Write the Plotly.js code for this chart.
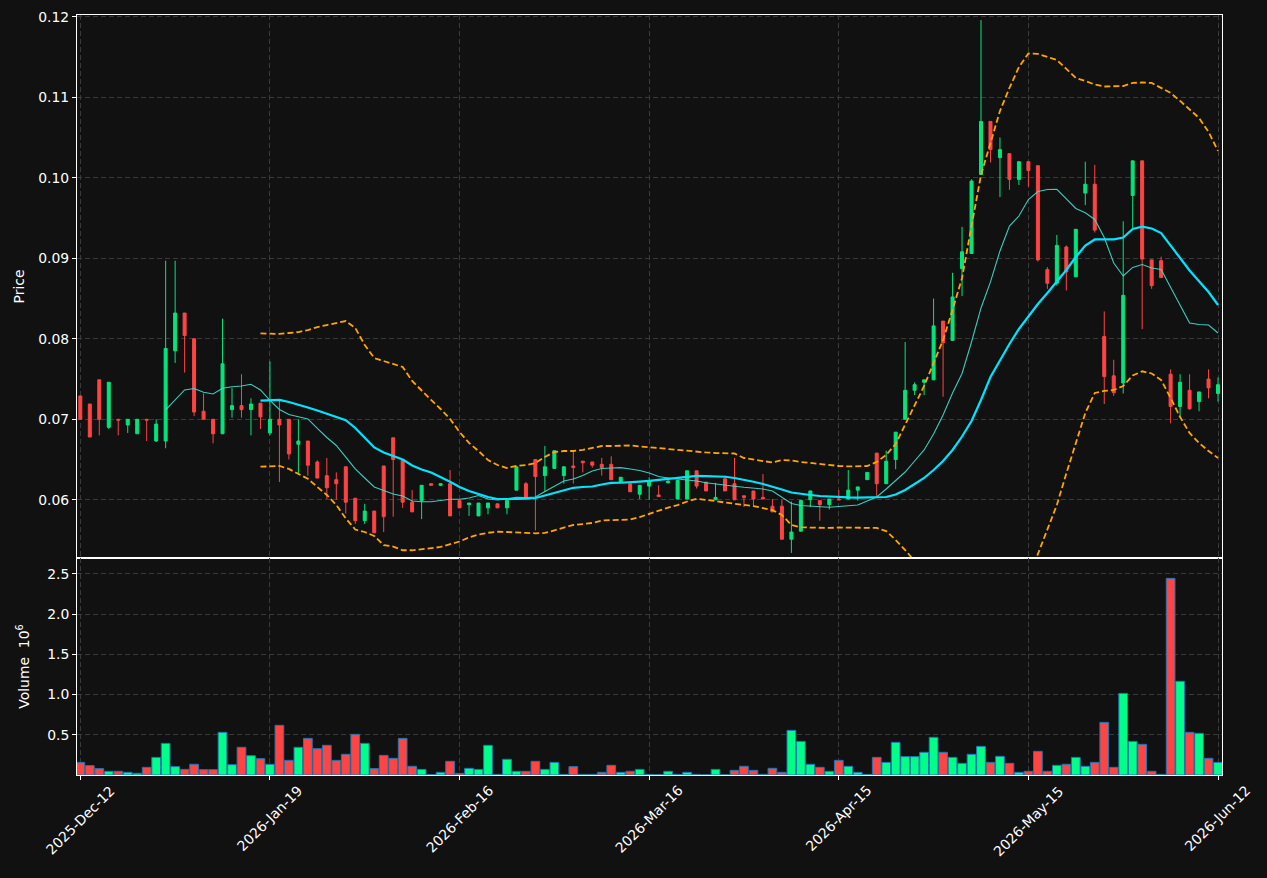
<!DOCTYPE html>
<html>
<head>
<meta charset="utf-8">
<script src="https://cdn.plot.ly/plotly-3.0.1.min.js"></script>
<style>
  html, body { margin: 0; padding: 0; background: #111111; }
  #chart { width: 1267px; height: 878px; }
</style>
</head>
<body>
<div id="chart"></div>
<script>
// ---- Data (one entry per trading bar) ----
const tickIndex = [0, 20, 40, 60, 80, 100, 120];
const tickLabels = ['2025-Dec-12', '2026-Jan-19', '2026-Feb-16', '2026-Mar-16', '2026-Apr-15', '2026-May-15', '2026-Jun-12'];

const openP = [
  0.0729, 0.0719, 0.0749, 0.0690, 0.0700, 0.0693, 0.0682, 0.0700, 0.0673, 0.0673,
  0.0785, 0.0832, 0.0800, 0.0710, 0.0700, 0.0682, 0.0712, 0.0717, 0.0712, 0.0720,
  0.0683, 0.0700, 0.0700, 0.0669, 0.0673, 0.0647, 0.0630, 0.0625, 0.0641, 0.0602,
  0.0574, 0.0586, 0.0642, 0.0677, 0.0650, 0.0597, 0.0599, 0.0620, 0.0618, 0.0620,
  0.0599, 0.0594, 0.0580, 0.0590, 0.0595, 0.0590, 0.0612, 0.0620, 0.0650, 0.0630,
  0.0639, 0.0630, 0.0642, 0.0648, 0.0647, 0.0644, 0.0644, 0.0622, 0.0620, 0.0607,
  0.0617, 0.0606, 0.0621, 0.0601, 0.0601, 0.0636, 0.0622, 0.0600, 0.0626, 0.0620,
  0.0605, 0.0611, 0.0603, 0.0592, 0.0592, 0.0551, 0.0561, 0.0600, 0.0599, 0.0594,
  0.0601, 0.0601, 0.0612, 0.0625, 0.0658, 0.0620, 0.0650, 0.0700, 0.0736, 0.0746,
  0.0749, 0.0822, 0.0798, 0.0887, 0.0906, 0.1004, 0.1070, 0.1025, 0.1030, 0.0998,
  0.1020, 0.1015, 0.0886, 0.0869, 0.0914, 0.0877, 0.0981, 0.0992, 0.0803, 0.0754,
  0.0745, 0.0978, 0.1021, 0.0898, 0.0897, 0.0756, 0.0716, 0.0736, 0.0722, 0.0750,
  0.0732
];
const highP = [
  0.0729, 0.0719, 0.0749, 0.0746, 0.0700, 0.0700, 0.0700, 0.0700, 0.0700, 0.0897,
  0.0897, 0.0832, 0.0800, 0.0732, 0.0700, 0.0825, 0.0739, 0.0756, 0.0726, 0.0720,
  0.0772, 0.0723, 0.0700, 0.0700, 0.0673, 0.0649, 0.0652, 0.0634, 0.0641, 0.0602,
  0.0595, 0.0586, 0.0642, 0.0677, 0.0650, 0.0612, 0.0618, 0.0620, 0.0620, 0.0637,
  0.0599, 0.0596, 0.0596, 0.0596, 0.0595, 0.0599, 0.0641, 0.0622, 0.0650, 0.0667,
  0.0661, 0.0641, 0.0661, 0.0648, 0.0647, 0.0652, 0.0654, 0.0628, 0.0620, 0.0618,
  0.0628, 0.0618, 0.0628, 0.0624, 0.0636, 0.0636, 0.0622, 0.0621, 0.0630, 0.0652,
  0.0605, 0.0611, 0.0632, 0.0601, 0.0600, 0.0598, 0.0599, 0.0611, 0.0599, 0.0601,
  0.0612, 0.0637, 0.0616, 0.0634, 0.0658, 0.0661, 0.0684, 0.0796, 0.0746, 0.0749,
  0.0850, 0.0822, 0.0882, 0.0939, 0.0998, 0.1196, 0.1070, 0.1050, 0.1030, 0.1020,
  0.1020, 0.1015, 0.0889, 0.0929, 0.0916, 0.0936, 0.1020, 0.1016, 0.0834, 0.0774,
  0.0946, 0.1021, 0.1021, 0.0898, 0.0902, 0.0762, 0.0756, 0.0756, 0.0734, 0.0762,
  0.0752
];
const lowP = [
  0.0700, 0.0678, 0.0680, 0.0688, 0.0680, 0.0683, 0.0682, 0.0673, 0.0672, 0.0664,
  0.0770, 0.0758, 0.0704, 0.0700, 0.0670, 0.0682, 0.0702, 0.0702, 0.0680, 0.0688,
  0.0680, 0.0622, 0.0650, 0.0631, 0.0630, 0.0627, 0.0601, 0.0600, 0.0583, 0.0570,
  0.0570, 0.0559, 0.0560, 0.0579, 0.0590, 0.0585, 0.0576, 0.0618, 0.0617, 0.0580,
  0.0590, 0.0580, 0.0580, 0.0582, 0.0590, 0.0582, 0.0612, 0.0603, 0.0562, 0.0610,
  0.0639, 0.0620, 0.0620, 0.0634, 0.0640, 0.0630, 0.0625, 0.0622, 0.0610, 0.0601,
  0.0600, 0.0604, 0.0621, 0.0601, 0.0601, 0.0614, 0.0611, 0.0600, 0.0611, 0.0600,
  0.0591, 0.0591, 0.0601, 0.0585, 0.0551, 0.0534, 0.0561, 0.0591, 0.0574, 0.0588,
  0.0600, 0.0601, 0.0599, 0.0625, 0.0602, 0.0620, 0.0638, 0.0700, 0.0730, 0.0730,
  0.0749, 0.0728, 0.0798, 0.0853, 0.0906, 0.1004, 0.1019, 0.0976, 0.0985, 0.0991,
  0.0989, 0.0896, 0.0862, 0.0866, 0.0860, 0.0877, 0.0966, 0.0932, 0.0719, 0.0729,
  0.0732, 0.0937, 0.0812, 0.0862, 0.0876, 0.0695, 0.0703, 0.0712, 0.0710, 0.0726,
  0.0722
];
const closeP = [
  0.0700, 0.0678, 0.0700, 0.0746, 0.0699, 0.0700, 0.0700, 0.0699, 0.0694, 0.0788,
  0.0832, 0.0804, 0.0709, 0.0700, 0.0682, 0.0769, 0.0717, 0.0712, 0.0719, 0.0703,
  0.0700, 0.0693, 0.0657, 0.0673, 0.0643, 0.0627, 0.0615, 0.0620, 0.0597, 0.0574,
  0.0586, 0.0559, 0.0579, 0.0650, 0.0597, 0.0585, 0.0618, 0.0618, 0.0620, 0.0580,
  0.0590, 0.0596, 0.0596, 0.0596, 0.0590, 0.0599, 0.0641, 0.0603, 0.0629, 0.0641,
  0.0661, 0.0641, 0.0640, 0.0646, 0.0643, 0.0640, 0.0625, 0.0628, 0.0610, 0.0618,
  0.0623, 0.0604, 0.0623, 0.0624, 0.0636, 0.0617, 0.0611, 0.0603, 0.0611, 0.0600,
  0.0603, 0.0601, 0.0601, 0.0585, 0.0551, 0.0560, 0.0599, 0.0611, 0.0594, 0.0601,
  0.0600, 0.0612, 0.0616, 0.0634, 0.0620, 0.0648, 0.0684, 0.0736, 0.0743, 0.0749,
  0.0816, 0.0795, 0.0852, 0.0908, 0.0996, 0.1070, 0.1035, 0.1035, 0.0998, 0.1020,
  0.1009, 0.0898, 0.0869, 0.0916, 0.0883, 0.0936, 0.0992, 0.0935, 0.0753, 0.0733,
  0.0854, 0.1021, 0.0899, 0.0866, 0.0876, 0.0716, 0.0746, 0.0713, 0.0734, 0.0739,
  0.0743
];
// Volume in millions
const volumeM = [
  0.157, 0.116, 0.079, 0.046, 0.046, 0.033, 0.021, 0.095, 0.219, 0.393,
  0.104, 0.070, 0.133, 0.066, 0.066, 0.530, 0.128, 0.344, 0.240, 0.203,
  0.133, 0.617, 0.182, 0.344, 0.455, 0.327, 0.369, 0.182, 0.257, 0.505,
  0.393, 0.079, 0.244, 0.207, 0.455, 0.108, 0.070, 0.005, 0.033, 0.170,
  0.020, 0.083, 0.070, 0.369, 0.008, 0.195, 0.046, 0.046, 0.170, 0.070,
  0.157, 0.008, 0.104, 0.008, 0.008, 0.033, 0.120, 0.033, 0.046, 0.070,
  0.008, 0.005, 0.046, 0.008, 0.033, 0.008, 0.003, 0.070, 0.003, 0.058,
  0.108, 0.058, 0.008, 0.083, 0.033, 0.555, 0.418, 0.133, 0.095, 0.046,
  0.182, 0.108, 0.033, 0.008, 0.219, 0.157, 0.406, 0.228, 0.228, 0.282,
  0.468, 0.282, 0.219, 0.145, 0.257, 0.356, 0.157, 0.232, 0.145, 0.033,
  0.046, 0.294, 0.046, 0.120, 0.133, 0.219, 0.108, 0.157, 0.654, 0.095,
  1.014, 0.418, 0.381, 0.046, 0.008, 2.443, 1.164, 0.530, 0.518, 0.207,
  0.157
];

// Thin moving average (starts at bar 9)
const smaShortStart = 9;
const smaShort = [
  0.07116, 0.07240, 0.07364, 0.07383, 0.07335, 0.07314, 0.07385, 0.07405, 0.07414, 0.07435,
  0.07364, 0.07234, 0.07122, 0.07060, 0.07029, 0.07004, 0.06886, 0.06774, 0.06675, 0.06532,
  0.06383, 0.06271, 0.06159, 0.06116, 0.06072, 0.06047, 0.05985, 0.05976, 0.05976, 0.05991,
  0.06006, 0.06006, 0.06022, 0.06053, 0.06010, 0.05998, 0.06012, 0.06031, 0.06029, 0.06035,
  0.06103, 0.06165, 0.06234, 0.06258, 0.06302, 0.06358, 0.06389, 0.06395, 0.06399, 0.06383,
  0.06364, 0.06333, 0.06289, 0.06271, 0.06258, 0.06246, 0.06234, 0.06211, 0.06194, 0.06181,
  0.06169, 0.06155, 0.06144, 0.06134, 0.06109, 0.06035, 0.05954, 0.05929, 0.05921, 0.05913,
  0.05908, 0.05917, 0.05929, 0.05935, 0.05985, 0.06035, 0.06134, 0.06234, 0.06345, 0.06482,
  0.06619, 0.06817, 0.07053, 0.07327, 0.07569, 0.07960, 0.08383, 0.08706, 0.09091, 0.09401,
  0.09525, 0.09730, 0.09830, 0.09855, 0.09857, 0.09737, 0.09619, 0.09566, 0.09482, 0.09258,
  0.08942, 0.08780, 0.08886, 0.08923, 0.08879, 0.08861, 0.08643, 0.08420, 0.08196, 0.08178,
  0.08171, 0.08072
];

// Band middle (thick line), upper and lower bands (start at bar 19)
const bandStart = 19;
const bandMid = [
  0.07231, 0.07237, 0.07240, 0.07215, 0.07184, 0.07147, 0.07109, 0.07072, 0.07035, 0.06989,
  0.06892, 0.06774, 0.06650, 0.06588, 0.06544, 0.06501, 0.06426, 0.06376, 0.06339, 0.06283,
  0.06225, 0.06159, 0.06109, 0.06072, 0.06035, 0.06010, 0.06006, 0.06010, 0.06014, 0.06022,
  0.06053, 0.06084, 0.06116, 0.06149, 0.06159, 0.06165, 0.06190, 0.06209, 0.06212, 0.06216,
  0.06225, 0.06234, 0.06246, 0.06258, 0.06275, 0.06291, 0.06296, 0.06293, 0.06289, 0.06286,
  0.06271, 0.06252, 0.06224, 0.06196, 0.06165, 0.06128, 0.06091, 0.06072, 0.06060, 0.06047,
  0.06039, 0.06035, 0.06029, 0.06026, 0.06026, 0.06029, 0.06035, 0.06066, 0.06122, 0.06196,
  0.06271, 0.06370, 0.06482, 0.06619, 0.06786, 0.06979, 0.07240, 0.07525, 0.07737, 0.07935,
  0.08122, 0.08283, 0.08432, 0.08569, 0.08706, 0.08855, 0.09016, 0.09159, 0.09234, 0.09236,
  0.09236, 0.09258, 0.09364, 0.09393, 0.09370, 0.09314, 0.09165, 0.09004, 0.08848, 0.08718,
  0.08581, 0.08420
];
const bandUpper = [
  0.08066, 0.08066, 0.08060, 0.08072, 0.08084, 0.08109, 0.08146, 0.08171, 0.08196, 0.08221,
  0.08134, 0.07923, 0.07761, 0.07724, 0.07687, 0.07650, 0.07476, 0.07352, 0.07240, 0.07128,
  0.07004, 0.06842, 0.06706, 0.06606, 0.06494, 0.06432, 0.06395, 0.06420, 0.06432, 0.06457,
  0.06532, 0.06594, 0.06606, 0.06606, 0.06619, 0.06644, 0.06668, 0.06668, 0.06675, 0.06675,
  0.06662, 0.06656, 0.06644, 0.06631, 0.06619, 0.06606, 0.06594, 0.06588, 0.06581, 0.06581,
  0.06575, 0.06519, 0.06501, 0.06482, 0.06463, 0.06494, 0.06488, 0.06470, 0.06457, 0.06445,
  0.06426, 0.06420, 0.06414, 0.06414, 0.06420, 0.06470, 0.06557, 0.06693, 0.06929, 0.07165,
  0.07414, 0.07699, 0.07985, 0.08358, 0.08755, 0.09401, 0.10035, 0.10432, 0.10830, 0.11116,
  0.11376, 0.11544, 0.11538, 0.11501, 0.11463, 0.11352, 0.11240, 0.11202, 0.11159, 0.11134,
  0.11140, 0.11140, 0.11178, 0.11184, 0.11178, 0.11116, 0.11054, 0.10955, 0.10843, 0.10743,
  0.10569, 0.10333
];
const bandLower = [
  0.06411, 0.06416, 0.06420, 0.06383, 0.06321, 0.06261, 0.06159, 0.06060, 0.05936, 0.05768,
  0.05631, 0.05600, 0.05550, 0.05438, 0.05419, 0.05373, 0.05373, 0.05383, 0.05399, 0.05414,
  0.05448, 0.05482, 0.05532, 0.05569, 0.05590, 0.05603, 0.05600, 0.05591, 0.05588, 0.05584,
  0.05588, 0.05621, 0.05656, 0.05687, 0.05699, 0.05712, 0.05743, 0.05749, 0.05749, 0.05755,
  0.05786, 0.05827, 0.05867, 0.05903, 0.05935, 0.05979, 0.06012, 0.06000, 0.05985, 0.05966,
  0.05954, 0.05938, 0.05921, 0.05898, 0.05873, 0.05811, 0.05687, 0.05658, 0.05653, 0.05650,
  0.05650, 0.05656, 0.05656, 0.05658, 0.05658, 0.05650, 0.05612, 0.05501, 0.05376, 0.05240,
  0.05128, 0.05041, 0.04979, 0.04880, 0.04817, 0.04557, 0.04445, 0.04618, 0.04644, 0.04754,
  0.04868, 0.05022, 0.05327, 0.05625, 0.05935, 0.06327, 0.06718, 0.07078, 0.07327, 0.07352,
  0.07364, 0.07414, 0.07544, 0.07596, 0.07569, 0.07488, 0.07265, 0.07029, 0.06830, 0.06706,
  0.06606, 0.06519
];

// ---- Styling ----
const BG = '#111111';
const UP = '#00e67c';
const DOWN = '#ff4444';
const VOL_UP = '#00ff88';
const VOL_DOWN = '#ff4444';
const GRID = '#3a3a3a';
const FONT = 'DejaVu Sans, Liberation Sans, sans-serif';
const TICKFONT = { family: FONT, size: 13.9, color: '#ffffff' };

const xIdx = openP.map((_, i) => i);
const xFrom = (arr, start) => arr.map((_, k) => k + start);
const volColors = closeP.map((c, i) => (c >= openP[i] ? VOL_UP : VOL_DOWN));

const traces = [
  {
    type: 'candlestick',
    x: xIdx, open: openP, high: highP, low: lowP, close: closeP,
    xaxis: 'x', yaxis: 'y',
    increasing: { line: { color: UP, width: 1 }, fillcolor: UP },
    decreasing: { line: { color: DOWN, width: 1 }, fillcolor: DOWN },
    whiskerwidth: 0,
    showlegend: false, hoverinfo: 'skip'
  },
  {
    type: 'scatter', mode: 'lines',
    x: xFrom(bandUpper, bandStart), y: bandUpper,
    line: { color: '#ffa500', width: 1.8, dash: '6px,3px' },
    xaxis: 'x', yaxis: 'y', showlegend: false, hoverinfo: 'skip'
  },
  {
    type: 'scatter', mode: 'lines',
    x: xFrom(bandLower, bandStart), y: bandLower,
    line: { color: '#ffa500', width: 1.8, dash: '6px,3px' },
    xaxis: 'x', yaxis: 'y', showlegend: false, hoverinfo: 'skip'
  },
  {
    type: 'scatter', mode: 'lines',
    x: xFrom(smaShort, smaShortStart), y: smaShort,
    line: { color: 'rgba(64,224,208,0.9)', width: 1.1 },
    xaxis: 'x', yaxis: 'y', showlegend: false, hoverinfo: 'skip'
  },
  {
    type: 'scatter', mode: 'lines',
    x: xFrom(bandMid, bandStart), y: bandMid,
    line: { color: '#00e5ff', width: 2.2 },
    xaxis: 'x', yaxis: 'y', showlegend: false, hoverinfo: 'skip'
  },
  {
    type: 'bar',
    x: xIdx, y: volumeM,
    width: 0.92,
    marker: { color: volColors, line: { color: '#1f77b4', width: 1 } },
    xaxis: 'x2', yaxis: 'y2', showlegend: false, hoverinfo: 'skip'
  }
];

// Rotated date labels centred under their ticks (as the reference draws them)
const dateAnnotations = tickLabels.map((label, k) => ({
  x: tickIndex[k], xref: 'x2',
  y: 0, yref: 'paper', yshift: -6,
  text: label, textangle: -45,
  xanchor: 'center', yanchor: 'top',
  showarrow: false, borderpad: 0,
  font: TICKFONT
}));

const splitFrac = 217 / 760;
const xRange = [-0.35, 120.42];
const commonAxis = {
  showline: true, mirror: true, linecolor: '#ffffff', linewidth: 1,
  gridcolor: GRID, griddash: '5px,3px', gridwidth: 1,
  zeroline: false, tickcolor: '#ffffff', ticklen: 4, tickwidth: 1,
  tickfont: TICKFONT
};

const layout = {
  width: 1267, height: 878,
  paper_bgcolor: BG, plot_bgcolor: BG,
  margin: { l: 77, r: 45, t: 15, b: 103 },
  font: { family: FONT, color: '#ffffff', size: 13.9 },
  showlegend: false,
  boxgap: 0.55,
  bargap: 0,
  annotations: dateAnnotations,
  xaxis: Object.assign({}, commonAxis, {
    anchor: 'y', domain: [0, 1], range: xRange,
    tickmode: 'array', tickvals: tickIndex,
    showticklabels: false, ticks: '',
    rangeslider: { visible: false }
  }),
  yaxis: Object.assign({}, commonAxis, {
    anchor: 'x', domain: [splitFrac, 1], range: [0.05277, 0.12022],
    tickmode: 'array', tickvals: [0.06, 0.07, 0.08, 0.09, 0.10, 0.11, 0.12],
    tickformat: '.2f', ticks: 'outside',
    title: { text: 'Price', font: { family: FONT, size: 13.9, color: '#ffffff' }, standoff: 10 }
  }),
  xaxis2: Object.assign({}, commonAxis, {
    anchor: 'y2', domain: [0, 1], range: xRange,
    tickmode: 'array', tickvals: tickIndex,
    showticklabels: false, ticks: 'outside'
  }),
  yaxis2: Object.assign({}, commonAxis, {
    anchor: 'x2', domain: [0, splitFrac], range: [0, 2.696],
    tickmode: 'array', tickvals: [0.5, 1.0, 1.5, 2.0, 2.5],
    tickformat: '.1f', ticks: 'outside',
    title: { text: 'Volume  10<sup>6</sup>', font: { family: FONT, size: 13.9, color: '#ffffff' }, standoff: 14 }
  })
};

Plotly.newPlot('chart', traces, layout, { staticPlot: true, displayModeBar: false });
</script>
</body>
</html>
